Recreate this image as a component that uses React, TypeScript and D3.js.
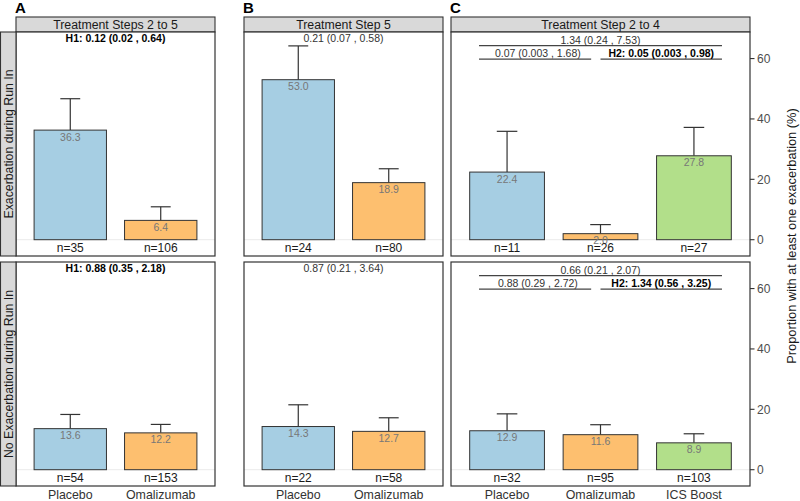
import React, { useEffect, useRef } from 'react';
import * as d3 from 'd3';

const groups = ['Placebo', 'Omalizumab', 'ICS Boost'];
const groupColors = ['#a6cee3', '#fdbf6f', '#b2df8a'];
const panelLetters = ['A', 'B', 'C'];
const panelTitles = ['Treatment Steps 2 to 5', 'Treatment Step 5', 'Treatment Step 2 to 4'];
const rowLabels = ['Exacerbation during Run In', 'No Exacerbation during Run In'];
const yTicks = [0, 20, 40, 60];
const yTitle = 'Proportion with at least one exacerbation (%)';

// [row][group] : estimate (%), upper CI (%), n
const estA = [[36.3, 6.4], [13.6, 12.2]];
const upperA = [[46.7, 10.9], [18.3, 15.0]];
const nA = [[35, 106], [54, 153]];

const estB = [[53.0, 18.9], [14.3, 12.7]];
const upperB = [[64.2, 23.5], [21.5, 17.2]];
const nB = [[24, 80], [22, 58]];

const estC = [[22.4, 2.0, 27.8], [12.9, 11.6, 8.9]];
const upperC = [[35.9, 5.0, 37.2], [18.5, 14.9, 11.9]];
const nC = [[11, 26, 27], [32, 95, 103]];

// single comparison text for A and B, [row]
const testA = ['H1: 0.12 (0.02 , 0.64)', 'H1: 0.88 (0.35 , 2.18)'];
const testB = ['0.21 (0.07 , 0.58)', '0.87 (0.21 , 3.64)'];
// bracketed comparisons for C, [row][comparison]: Placebo-ICS, Placebo-Omal, Omal-ICS
const testC = [
  ['1.34 (0.24 , 7.53)', '0.07 (0.003 , 1.68)', 'H2: 0.05 (0.003 , 0.98)'],
  ['0.66 (0.21 , 2.07)', '0.88 (0.29 , 2.72)', 'H2: 1.34 (0.56 , 3.25)'],
];

const panels = [
  { est: estA, upper: upperA, n: nA, k: 2 },
  { est: estB, upper: upperB, n: nB, k: 2 },
  { est: estC, upper: upperC, n: nC, k: 3 },
];

const FONT = "'Liberation Sans', Arial, Helvetica, sans-serif";

const App: React.FC = () => {
  const svgRef = useRef<SVGSVGElement | null>(null);

  useEffect(() => {
    if (!svgRef.current) return;
    const svg = d3.select(svgRef.current);
    svg.selectAll('*').remove();
    svg.attr('width', 800).attr('height', 501).style('font-family', FONT);

    const cols = [
      { x0: 16, x1: 215 },
      { x0: 244, x1: 443 },
      { x0: 451, x1: 750 },
    ];
    const rows = [
      { y0: 32, y1: 256 },
      { y0: 262, y1: 486 },
    ];
    const stripTop = 17;

    panels.forEach((p, pi) => {
      const col = cols[pi];
      const x = d3
        .scaleBand<number>()
        .domain(d3.range(p.k))
        .range([col.x0, col.x1])
        .paddingInner(0.2)
        .paddingOuter(0.2);
      const step = x.step();
      const cx = (i: number) => (x(i) as number) + x.bandwidth() / 2;
      // continuous position in group units (1-based like ggplot)
      const xu = (u: number) => cx(0) + (u - 1) * step;

      // column header strip
      svg
        .append('rect')
        .attr('x', col.x0)
        .attr('y', stripTop)
        .attr('width', col.x1 - col.x0)
        .attr('height', rows[0].y0 - stripTop)
        .attr('fill', '#d9d9d9')
        .attr('stroke', '#333333')
        .attr('stroke-width', 1.1);
      svg
        .append('text')
        .attr('x', (col.x0 + col.x1) / 2)
        .attr('y', (stripTop + rows[0].y0) / 2)
        .attr('dy', '0.36em')
        .attr('text-anchor', 'middle')
        .attr('fill', '#1a1a1a')
        .style('font-size', '12.3px')
        .text(panelTitles[pi]);

      svg
        .append('text')
        .attr('x', col.x0 - 1)
        .attr('y', 12.5)
        .attr('fill', '#000')
        .style('font-size', '15px')
        .style('font-weight', 'bold')
        .text(panelLetters[pi]);

      rows.forEach((row, ri) => {
        const y = d3.scaleLinear().domain([-5.4, 68.8]).range([row.y1, row.y0]);
        const g = svg.append('g');

        g.append('rect')
          .attr('x', col.x0)
          .attr('y', row.y0)
          .attr('width', col.x1 - col.x0)
          .attr('height', row.y1 - row.y0)
          .attr('fill', '#ffffff');

        g.append('line')
          .attr('x1', col.x0)
          .attr('x2', col.x1)
          .attr('y1', y(0))
          .attr('y2', y(0))
          .attr('stroke', '#ebebeb')
          .attr('stroke-width', 1);

        const est = p.est[ri];
        const up = p.upper[ri];

        // error bars (upper only)
        est.forEach((v, i) => {
          g.append('line')
            .attr('x1', cx(i))
            .attr('x2', cx(i))
            .attr('y1', y(v))
            .attr('y2', y(up[i]))
            .attr('stroke', '#333333')
            .attr('stroke-width', 1.2);
          g.append('line')
            .attr('x1', cx(i) - step * 0.11)
            .attr('x2', cx(i) + step * 0.11)
            .attr('y1', y(up[i]))
            .attr('y2', y(up[i]))
            .attr('stroke', '#333333')
            .attr('stroke-width', 1.2);
        });

        g.selectAll('.bar')
          .data(est)
          .enter()
          .append('rect')
          .attr('x', (_d, i) => x(i) as number)
          .attr('y', (d) => y(d))
          .attr('width', x.bandwidth())
          .attr('height', (d) => y(0) - y(d))
          .attr('fill', (_d, i) => groupColors[i])
          .attr('stroke', '#333333')
          .attr('stroke-width', 1);

        g.selectAll('.val')
          .data(est)
          .enter()
          .append('text')
          .attr('x', (_d, i) => cx(i))
          .attr('y', (d) => y(d) + 10.5)
          .attr('text-anchor', 'middle')
          .attr('fill', '#777777')
          .style('font-size', '10.5px')
          .text((d) => d.toFixed(1));

        g.selectAll('.n')
          .data(p.n[ri])
          .enter()
          .append('text')
          .attr('x', (_d, i) => cx(i))
          .attr('y', y(-2.6))
          .attr('dy', '0.36em')
          .attr('text-anchor', 'middle')
          .attr('fill', '#1a1a1a')
          .style('font-size', '12px')
          .text((d) => `n=${d}`);

        // comparison annotations
        if (pi < 2) {
          const txt = pi === 0 ? testA[ri] : testB[ri];
          g.append('text')
            .attr('x', (col.x0 + col.x1) / 2)
            .attr('y', y(66.6))
            .attr('dy', '0.36em')
            .attr('text-anchor', 'middle')
            .attr('fill', pi === 0 ? '#000' : '#333')
            .style('font-size', '10.5px')
            .style('font-weight', pi === 0 ? 'bold' : 'normal')
            .text(txt);
        } else {
          const spans = [
            { a: 0.7, b: 3.3, ty: 66.2, ly: 64.3, tx: 2.0 },
            { a: 0.7, b: 1.9, ty: 61.8, ly: 59.8, tx: 1.33 },
            { a: 2.0, b: 3.3, ty: 61.8, ly: 59.8, tx: 2.65 },
          ];
          testC[ri].forEach((t, j) => {
            const s = spans[j];
            const bold = t.startsWith('H2');
            g.append('line')
              .attr('x1', xu(s.a))
              .attr('x2', xu(s.b))
              .attr('y1', y(s.ly))
              .attr('y2', y(s.ly))
              .attr('stroke', '#444444')
              .attr('stroke-width', 1.2);
            g.append('text')
              .attr('x', xu(s.tx))
              .attr('y', y(s.ty))
              .attr('dy', '0.36em')
              .attr('text-anchor', 'middle')
              .attr('fill', bold ? '#000' : '#333')
              .style('font-size', '10.5px')
              .style('font-weight', bold ? 'bold' : 'normal')
              .text(t);
          });

          // right axis
          const axis = g.append('g');
          yTicks.forEach((t) => {
            axis
              .append('line')
              .attr('x1', col.x1)
              .attr('x2', col.x1 + 4.5)
              .attr('y1', y(t))
              .attr('y2', y(t))
              .attr('stroke', '#333333')
              .attr('stroke-width', 1.1);
            axis
              .append('text')
              .attr('x', col.x1 + 7)
              .attr('y', y(t))
              .attr('dy', '0.36em')
              .attr('fill', '#4d4d4d')
              .style('font-size', '12px')
              .text(t);
          });
        }

        g.append('rect')
          .attr('x', col.x0)
          .attr('y', row.y0)
          .attr('width', col.x1 - col.x0)
          .attr('height', row.y1 - row.y0)
          .attr('fill', 'none')
          .attr('stroke', '#333333')
          .attr('stroke-width', 1.2);

        // row strips on the left of panel A
        if (pi === 0) {
          svg
            .append('rect')
            .attr('x', 0.5)
            .attr('y', row.y0)
            .attr('width', col.x0 - 0.5)
            .attr('height', row.y1 - row.y0)
            .attr('fill', '#d9d9d9')
            .attr('stroke', '#333333')
            .attr('stroke-width', 1.1);
          svg
            .append('text')
            .attr('transform', `translate(${(col.x0 + 0.5) / 2},${(row.y0 + row.y1) / 2}) rotate(-90)`)
            .attr('dy', '0.36em')
            .attr('text-anchor', 'middle')
            .attr('fill', '#1a1a1a')
            .style('font-size', '12.3px')
            .text(rowLabels[ri]);
        }
      });

      // x labels
      svg
        .selectAll(`.xl${pi}`)
        .data(groups.slice(0, p.k))
        .enter()
        .append('text')
        .attr('x', (_d, i) => cx(i))
        .attr('y', 499)
        .attr('text-anchor', 'middle')
        .attr('fill', '#333333')
        .style('font-size', '12.4px')
        .text((d) => d);
    });

    svg
      .append('text')
      .attr('transform', 'translate(791,236) rotate(-90)')
      .attr('dy', '0.36em')
      .attr('text-anchor', 'middle')
      .attr('fill', '#1a1a1a')
      .style('font-size', '12.8px')
      .text(yTitle);
  }, []);

  return (
    <div style={{ position: 'absolute', left: 0, top: 0, width: 800, height: 501, background: '#fff' }}>
      <svg ref={svgRef} />
    </div>
  );
};

export default App;
